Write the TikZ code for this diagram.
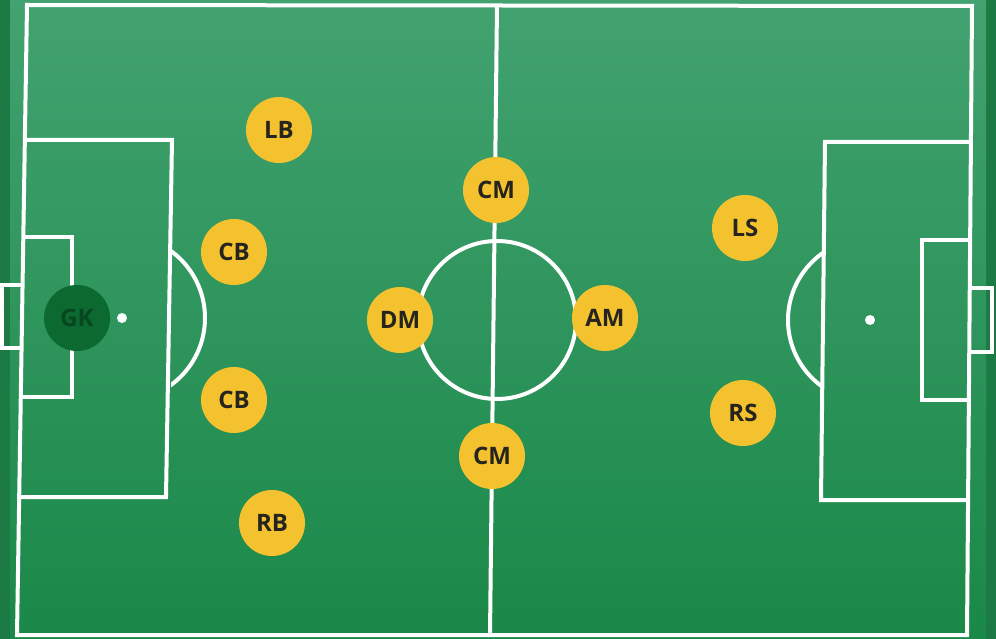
\documentclass[tikz,border=0pt]{standalone}
\usepackage{fontspec}
\setmainfont{Open Sans}
\usepackage{tikz}
\usetikzlibrary{positioning}

\begin{document}
\begin{tikzpicture}
            [x=1pt, y=-1pt,
            line/.style={white, line width=4pt, line join=miter},
            player/.style={circle, fill=playercolor, minimum size=66pt, inner sep=0pt,
                font=\fontsize{24}{24}\selectfont\bfseries, text=textcolor},
            keeper/.style={player, fill=keepercolor, text=keepertext},
            ]
            \definecolor{grasstop}{RGB}{66,162,112}
            \definecolor{grassbottom}{RGB}{26,136,72}
            \definecolor{edgecolor}{RGB}{28,122,68}
            \definecolor{playercolor}{RGB}{243,194,46}
            \definecolor{textcolor}{RGB}{38,36,30}
            \definecolor{keepercolor}{RGB}{12,105,48}
            \definecolor{keepertext}{RGB}{8,70,32}
            \useasboundingbox (0,0) rectangle (996,639);

            % grass
            \fill[edgecolor] (0,0) rectangle (996,639);
            \shade[top color=grasstop, bottom color=grassbottom] (10,0) rectangle (986,639);

            % outer lines and halfway line
            \draw[line] (27,5) -- (972,6) -- (967,635) -- (17,635) -- cycle;
            \draw[line] (497,5) -- (490,635);
            \coordinate (centre) at (497,320);
            \draw[line] (centre) circle (79);

            % left end
            \begin{scope}
                \draw[line] (25,140) -- (172,140) -- (166,497) -- (19,497);
                \draw[line] (23,237) -- (72,237) -- (72,397) -- (21,397);
                \draw[line] (23,285) -- (2,285) -- (2,348) -- (22,348);
                \coordinate (spotL) at (122,318);
                \fill[white] (spotL) circle (5);
                \begin{scope}
                    \clip (171,0) rectangle (300,639);
                    \draw[line] (spotL) circle (83);
                \end{scope}
            \end{scope}

            % right end
            \begin{scope}
                \draw[line] (971,142) -- (825,142) -- (821,500) -- (968,500);
                \draw[line] (970,240) -- (922,240) -- (922,400) -- (969,400);
                \draw[line] (970,288) -- (992,288) -- (992,352) -- (969,352);
                \coordinate (spotR) at (870,320);
                \fill[white] (spotR) circle (5);
                \begin{scope}
                    \clip (700,0) rectangle (822,639);
                    \draw[line] (spotR) circle (82);
                \end{scope}
            \end{scope}

            % players
            \node[keeper] (gk) at (77,318) {GK};
            \node[player] (lb) at (279,130) {LB};
            \node[player] (cbl) at (234,252) {CB};
            \node[player] (cbr) at (234,400) {CB};
            \node[player] (rb) at (272,523) {RB};
            \node[player] (cmt) at (496,190) {CM};
            \node[player] (dm) at (400,320) {DM};
            \node[player] (am) at (605,318) {AM};
            \node[player] (cmb) at (492,456) {CM};
            \node[player] (ls) at (745,228) {LS};
            \node[player] (rs) at (743,413) {RS};
        \end{tikzpicture}
\end{document}
